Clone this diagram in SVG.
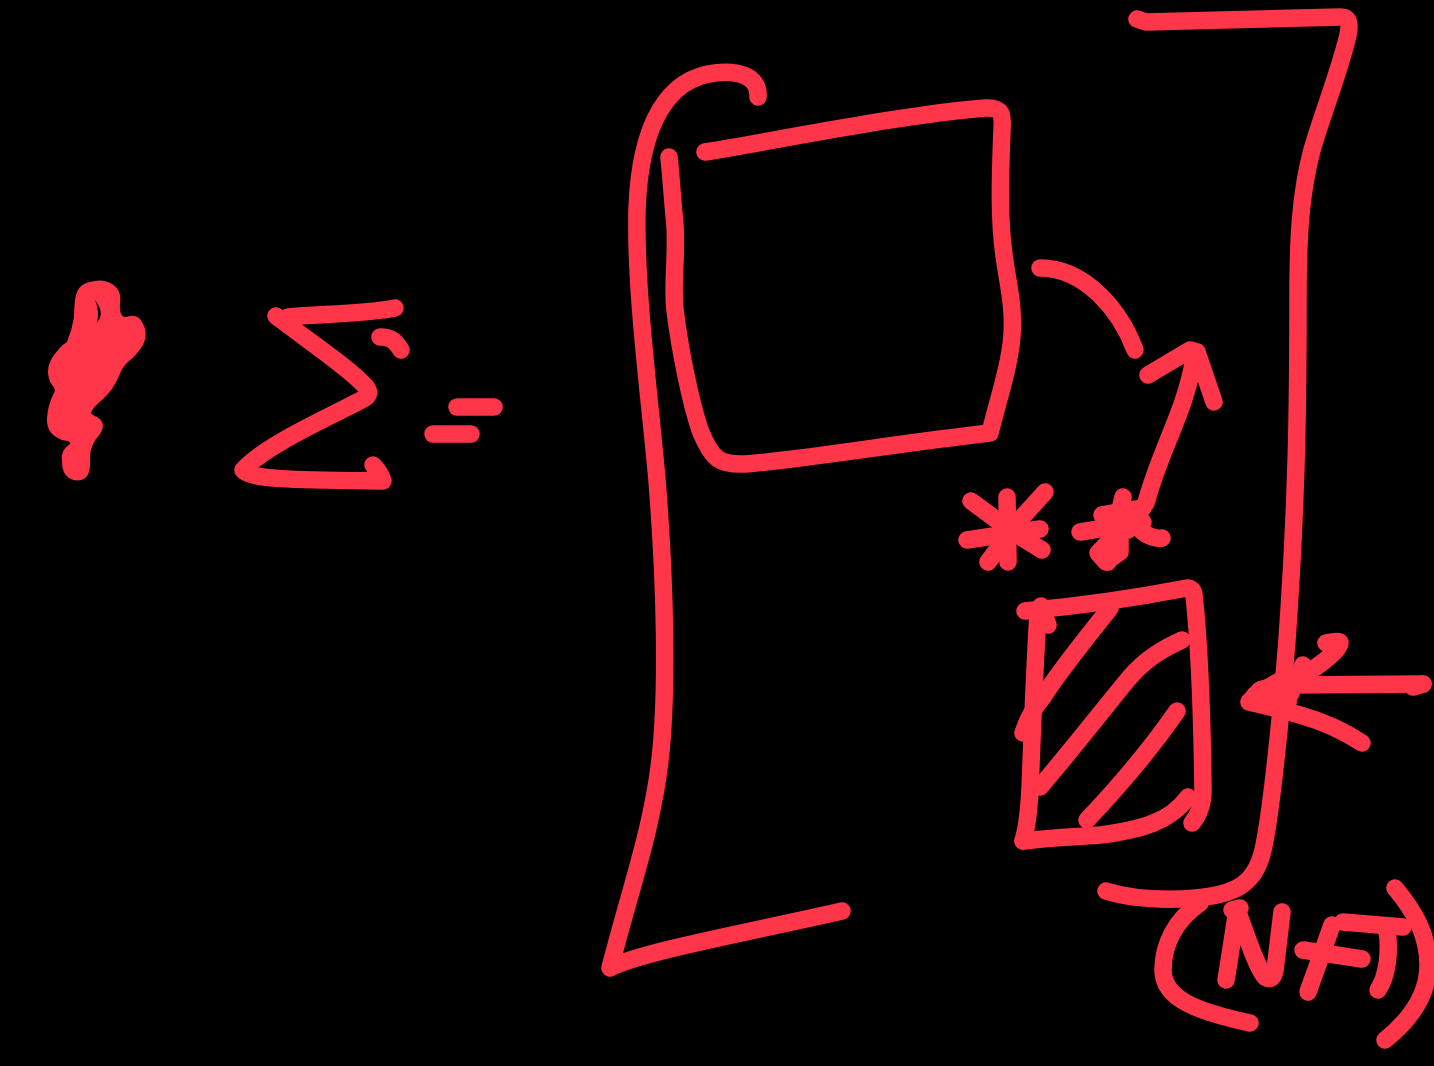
<svg xmlns="http://www.w3.org/2000/svg" width="1434" height="1066" viewBox="0 0 1434 1066">
<style>
.s{fill:none;stroke:#ff354a;stroke-width:17.5;stroke-linecap:round;stroke-linejoin:round}
.f{fill:#ff354a}
</style>
<rect width="1434" height="1066" fill="#000"/>
<g id="blob">
<path class="f" fill-rule="evenodd" d="M75,300 Q77,284 90,282 Q103,278 112,284 Q122,290 120,304 Q119,318 127,317 Q137,313 142,322 Q149,333 143,345 Q136,356 129,361 Q122,367 119,376 Q113,390 103,399 Q92,408 91,413 Q92,415 97,417 Q107,423 100,434 Q90,445 90,457 Q91,474 85,478 Q78,483 69,478 Q62,474 62,461 Q60,450 70,444 Q72,441 62,440 Q46,434 47,418 Q48,405 53,395 Q57,389 52,385 Q44,372 52,358 Q60,346 67,342 Q72,330 74,317 Q74,308 75,300 Z M95,300 Q103,310 100,318 L97,323 Q100,312 95,300 Z"/>
</g>
<g id="sigma">
<path class="s" d="M276,316 C300,335 350,368 367,388 Q371,394 365,398 C330,417 265,445 243,470 C250,480 300,480 383,481 Q380,472 373,465"/>
<path class="s" d="M288,317 C320,314 365,314 395,308"/>
<path class="s" d="M380,337 C390,337 395,340 401,350"/>
</g>
<g id="equals">
<path class="s" d="M457,407 L494,407"/>
<path class="s" d="M433,434 L471,434"/>
</g>
<g id="left-bracket">
<path class="s" d="M758,97 C760,75 735,70 715,73 C670,78 640,120 637,210 C635,290 650,400 657,480 C665,580 668,690 660,760 C652,830 630,890 610,968 C640,952 750,932 842,911"/>
</g>
<g id="square">
<path class="s" d="M705,152 C780,140 900,115 985,108 C1003,107 1003,115 1002,130 C1000,180 999,220 1004,255 C1008,285 1014,305 1012,335 C1010,365 998,400 990,433 C900,443 800,460 745,464 C720,465 712,460 700,430 C690,400 680,350 675,310 C672,280 677,260 675,225 C672,195 671,175 669,157"/>
</g>
<g id="connectors">
<path class="s" d="M1040,268 C1085,268 1120,310 1135,350"/>
<path class="s" d="M1148,375 L1190,350 L1197,352 L1214,402"/>
<path class="s" d="M1194,358 C1186,410 1160,450 1146,503"/>
<path class="s" d="M1423,684 C1380,684 1330,685 1287,685"/>
<path class="s" d="M1413,687 L1423,684"/>
<path class="s" d="M1326,643 Q1340,640 1340,643 Q1340,652 1300,678 L1260,690 L1249,702 Q1275,708 1300,715 Q1335,725 1362,743"/>
<path class="s" d="M1303,665 L1290,695"/>
<path class="s" d="M1255,695 L1290,675 L1288,703 L1255,703 Z"/>
</g>
<g id="star-1">
<path class="s" d="M971,501 L1013,532 L1042,550"/>
<path class="s" d="M1045,492 L1017,523 L988,562"/>
<path class="s" d="M1007,497 L1008,562"/>
<path class="s" d="M967,540 L1040,529"/>
</g>
<g id="star-2">
<path class="s" d="M1080,532 L1143,522"/>
<path class="s" d="M1123,497 L1108,562"/>
<path class="s" d="M1102,515 L1143,508"/>
<path class="s" d="M1130,517 Q1145,540 1162,538"/>
<path class="s" d="M1098,553 L1120,530 L1120,552 L1106,562 Z"/>
<path class="s" d="M1110,520 L1128,530"/>
</g>
<g id="hatched-box">
<path class="s" d="M1025,611 C1080,606 1140,597 1187,588 Q1193,588 1194,595 C1200,650 1202,710 1203,790 Q1203,810 1192,823"/>
<path class="s" d="M1041,606 L1048,625 M1038,613 C1034,680 1032,740 1030,790 Q1028,825 1023,841"/>
<path class="s" d="M1023,841 C1050,838 1075,837 1100,835 C1140,830 1170,822 1188,797"/>
<path class="s" d="M1110,608 C1085,640 1060,670 1043,697 Q1030,712 1023,733"/>
<path class="s" d="M1182,640 C1160,650 1145,660 1130,677 C1105,707 1080,740 1040,787"/>
<path class="s" d="M1177,711 C1150,750 1125,780 1087,820"/>
</g>
<g id="right-bracket">
<path class="s" d="M1137,19 L1146,22 C1200,20 1270,19 1340,17 C1350,17 1350,25 1348,35 C1340,70 1322,115 1312,150 C1300,195 1298,240 1298,300 C1298,400 1297,500 1287,640 C1280,730 1270,820 1263,850 C1255,885 1235,897 1180,899 C1145,900 1125,897 1106,891"/>
</g>
<g id="nft-label">
<path class="s" d="M1200,903 C1175,920 1163,945 1163,970 C1163,1000 1200,1012 1250,1023"/>
<path class="s" d="M1226,980 L1228,968 L1237,910 C1245,930 1255,965 1265,977 Q1273,982 1275,970 L1282,912"/>
<path class="s" d="M1232,910 L1240,908"/>
<path class="s" d="M1308,992 L1332,925"/>
<path class="s" d="M1303,950 L1362,959"/>
<path class="s" d="M1343,922 L1403,927"/>
<path class="s" d="M1387,930 C1390,950 1388,975 1378,990"/>
<path class="s" d="M1395,888 C1415,912 1428,935 1428,965 C1428,995 1410,1020 1385,1040"/>
</g>
</svg>
